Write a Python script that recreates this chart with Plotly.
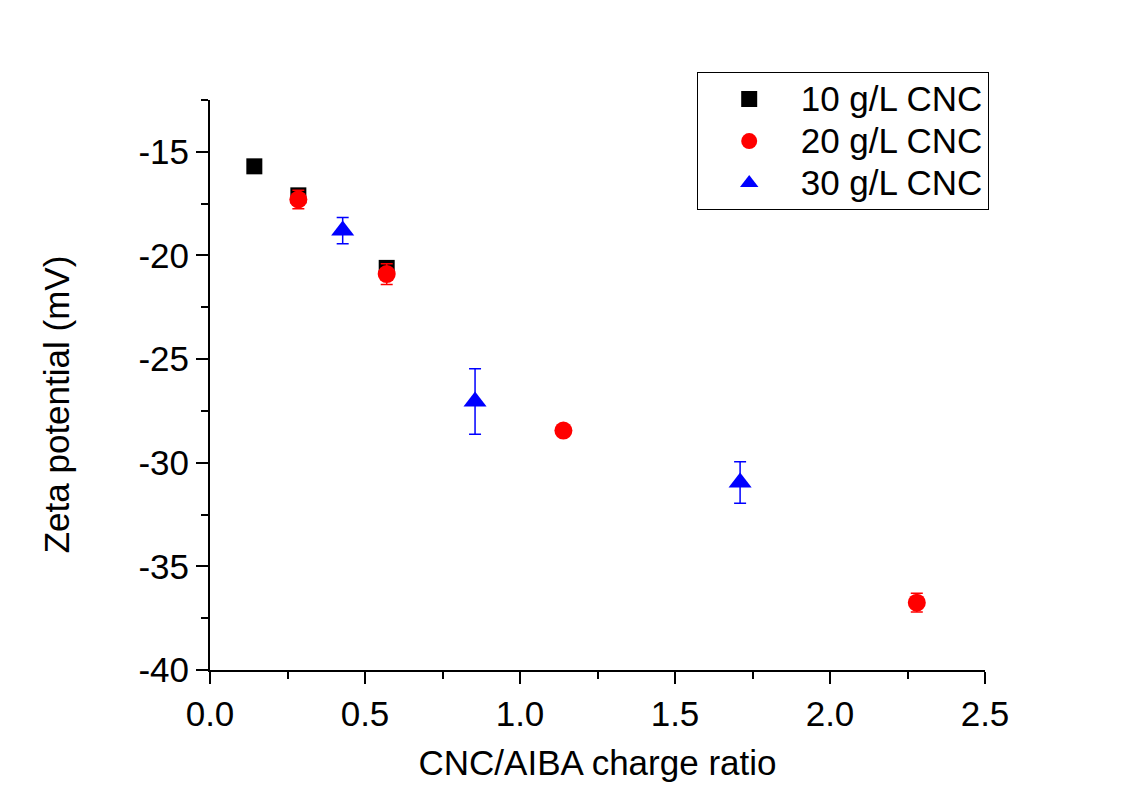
import plotly.graph_objects as go

# Data
x_10 = [0.143, 0.285, 0.570]
y_10 = [-15.7, -17.1, -20.6]
e_10 = [0.15, 0.2, 0.2]

x_20 = [0.285, 0.570, 1.140, 2.280]
y_20 = [-17.3, -20.9, -28.45, -36.75]
e_20 = [0.45, 0.5, 0.15, 0.45]

x_30 = [0.428, 0.855, 1.710]
y_30 = [-18.8, -27.05, -30.95]
e_30 = [0.63, 1.58, 1.0]

series_names = ["10 g/L CNC", "20 g/L CNC", "30 g/L CNC"]
x_ticks = [0.0, 0.5, 1.0, 1.5, 2.0, 2.5]
y_ticks = [-40, -35, -30, -25, -20, -15]

FONT = "Liberation Sans, Arial, sans-serif"
FS = 35


def lg(name):
    return f'<span style="font-size:{FS}px">{name}</span>'


fig = go.Figure()
fig.add_trace(go.Scatter(
    x=x_10, y=y_10, mode="markers", name=lg(series_names[0]),
    marker=dict(symbol="square", size=16, color="black"),
    error_y=dict(type="data", array=e_10, color="black", thickness=1.5, width=6),
))
fig.add_trace(go.Scatter(
    x=x_20, y=y_20, mode="markers", name=lg(series_names[1]),
    marker=dict(symbol="circle", size=18, color="#ff0000"),
    error_y=dict(type="data", array=e_20, color="#ff0000", thickness=1.5, width=6),
))
fig.add_trace(go.Scatter(
    x=x_30, y=y_30, mode="markers", name=lg(series_names[2]),
    marker=dict(symbol="triangle-up", size=20, color="#0000ff"),
    error_y=dict(type="data", array=e_30, color="#0000ff", thickness=1.5, width=6),
))

fig.update_layout(
    width=1126, height=792,
    margin=dict(l=210, r=141, t=100, b=122),
    paper_bgcolor="white", plot_bgcolor="white",
    font=dict(family=FONT, size=FS, color="black"),
    showlegend=True,
    legend=dict(
        x=0.628, y=1.049, xanchor="left", yanchor="top",
        bordercolor="black", borderwidth=1, bgcolor="white",
        font=dict(family=FONT, size=30, color="black"),
        tracegroupgap=0, itemsizing="trace", itemwidth=93,
    ),
    annotations=[dict(
        text="Zeta potential (mV)", textangle=-90,
        xref="paper", yref="paper", x=-0.197, y=0.4667,
        xanchor="center", yanchor="middle", showarrow=False,
        font=dict(family=FONT, size=FS, color="black"),
    )],
)
fig.update_xaxes(
    range=[0, 2.5], tickvals=x_ticks, ticktext=[f"{v:.1f}" for v in x_ticks],
    showline=True, linecolor="black", linewidth=2, mirror=False,
    ticks="outside", ticklen=12, tickwidth=2, tickcolor="black",
    minor=dict(dtick=0.25, ticks="outside", ticklen=7, tickwidth=2, tickcolor="black", showgrid=False),
    showgrid=False, zeroline=False,
    tickfont=dict(size=FS),
    title=dict(text="CNC/AIBA charge ratio", font=dict(size=FS), standoff=18),
)
fig.update_yaxes(
    range=[-40, -12.5], tickvals=y_ticks, ticktext=[str(v) for v in y_ticks],
    showline=True, linecolor="black", linewidth=2, mirror=False,
    ticks="outside", ticklen=12, tickwidth=2, tickcolor="black",
    minor=dict(tick0=-40, dtick=2.5, ticks="outside", ticklen=7, tickwidth=2, tickcolor="black", showgrid=False),
    showgrid=False, zeroline=False,
    tickfont=dict(size=FS),
)

fig.write_html("out.html")
